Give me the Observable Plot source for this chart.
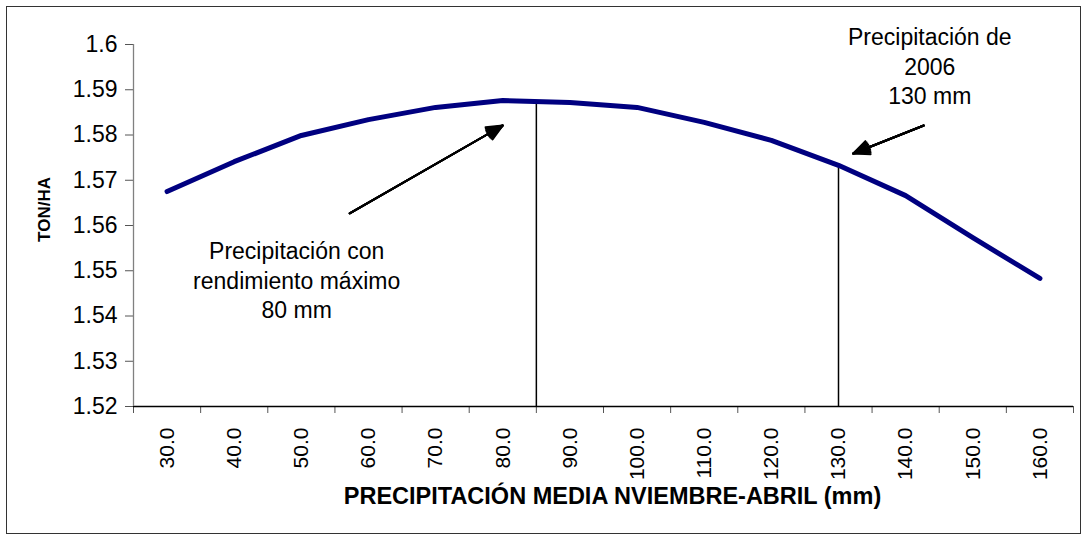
<!DOCTYPE html>
<html><head><meta charset="utf-8">
<script src="https://cdn.jsdelivr.net/npm/d3@7"></script>
<script src="https://cdn.jsdelivr.net/npm/@observablehq/plot@0.6"></script>
<style>
html,body{margin:0;padding:0;background:#fff;}
#wrap{position:relative;width:1081px;height:540px;overflow:hidden;}
#border{position:absolute;left:6px;top:6px;width:1075px;height:528px;border:1.5px solid #333;box-sizing:border-box;pointer-events:none;}
svg{display:block;}
</style></head><body><div id="wrap"><div id="border"></div></div>
<script>
// Data
const categories = [30, 40, 50, 60, 70, 80, 90, 100, 110, 120, 130, 140, 150, 160];
const yields = [1.5675, 1.5741, 1.5799, 1.5834, 1.5861, 1.5876, 1.5872, 1.5861, 1.5828, 1.5788, 1.5733, 1.5666, 1.5573, 1.5483];
const xBoundaries = [25, 35, 45, 55, 65, 75, 85, 95, 105, 115, 125, 135, 145, 155, 165];
const yTicks = [1.52, 1.53, 1.54, 1.55, 1.56, 1.57, 1.58, 1.59, 1.6];
const yTickLabels = ["1.52", "1.53", "1.54", "1.55", "1.56", "1.57", "1.58", "1.59", "1.6"];
const markerX = [85, 130];
const markerTop = [1.5873, 1.5733];
const noteTexts = ["Precipitación con\nrendimiento máximo\n80 mm", "Precipitación de\n2006\n130 mm"];
const noteX = [49.3, 143.6];
const noteY = [1.5481, 1.5954];
const arrowFromX = [57.2, 142.7];
const arrowFromY = [1.5627, 1.5821];
const arrowToX = [80, 132.2];
const arrowToY = [1.5821, 1.5759];
const xLabel = "PRECIPITACIÓN MEDIA NVIEMBRE-ABRIL (mm)";
const yLabel = "TON/HA";

const series = categories.map((c, i) => ({x: c, y: yields[i]}));
const markers = markerX.map((x, i) => ({x, y: markerTop[i]}));
const notes = noteTexts.map((t, i) => ({t, x: noteX[i], y: noteY[i]}));
const arrows = arrowFromX.map((x1, i) => ({x1, y1: arrowFromY[i], x2: arrowToX[i], y2: arrowToY[i]}));

// layered arrowheads give a filled-looking head
const headAngles = [48, 38, 28, 18, 8];
const arrowMarks = headAngles.map(a =>
  Plot.arrow(arrows, {x1: "x1", y1: "y1", x2: "x2", y2: "y2", stroke: "#000", strokeWidth: 2, headLength: 13, headAngle: a})
);

const chart = Plot.plot({
  width: 1081, height: 540,
  marginLeft: 133, marginRight: 8, marginTop: 44, marginBottom: 134,
  style: {fontFamily: "'Liberation Sans', Arial, sans-serif", fontSize: "23px", color: "#000", background: "transparent", overflow: "visible"},
  x: {type: "linear", domain: [25, 165]},
  y: {domain: [1.52, 1.6]},
  marks: [
    Plot.axisY({ticks: yTicks, tickSize: 8, tickPadding: 8, tickFormat: d => yTickLabels[yTicks.indexOf(d)], label: null, fontSize: 23, stroke: "#555"}),
    Plot.axisX({ticks: xBoundaries, tickSize: 7, tickFormat: () => "", label: null, stroke: "#555"}),
    Plot.axisX({ticks: categories, tickSize: 0, tickRotate: -90, tickPadding: 21, tickFormat: d => d.toFixed(1), label: null, fontSize: 21}),
    Plot.ruleY([1.52], {stroke: "#000", strokeWidth: 1.3}),
    Plot.ruleX([25], {stroke: "#808080", strokeWidth: 1.3}),
    Plot.ruleX(markers, {x: "x", y1: 1.52, y2: "y", stroke: "#000", strokeWidth: 1.5}),
    Plot.line(series, {x: "x", y: "y", stroke: "#000080", strokeWidth: 5, strokeLinecap: "round", strokeLinejoin: "round"}),
    ...arrowMarks,
    Plot.text(notes, {x: "x", y: "y", text: "t", lineHeight: 1.27, fontSize: 23, textAnchor: "middle", fill: "#000"}),
    Plot.text([yLabel], {frameAnchor: "left", dx: -89, dy: -16, rotate: -90, textAnchor: "middle", fontWeight: "bold", fontSize: 17, fill: "#000"}),
    Plot.text([xLabel], {frameAnchor: "bottom", dx: 9, dy: 97, textAnchor: "middle", fontWeight: "bold", fontSize: 23.5, fill: "#000"})
  ]
});
document.getElementById("wrap").prepend(chart);
</script>
</body></html>
